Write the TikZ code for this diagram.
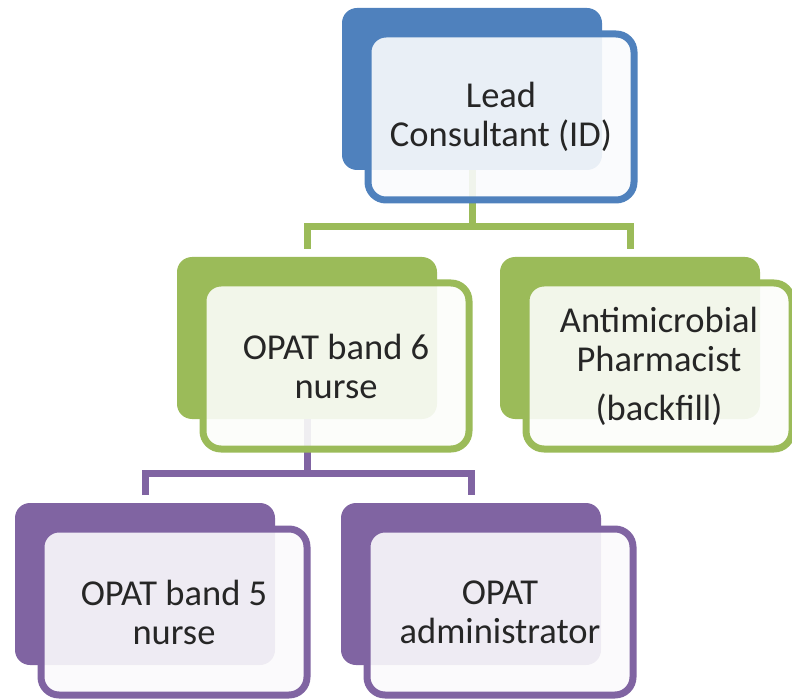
\documentclass[tikz,border=0pt]{standalone}
\usepackage{fontspec}
\setmainfont{Carlito}
\usepackage{tikz}
\usetikzlibrary{positioning,calc}
\definecolor{leadblue}{HTML}{4F81BD}
\definecolor{bandgreen}{HTML}{9BBB59}
\definecolor{staffpurple}{HTML}{8064A2}

\begin{document}
\begin{tikzpicture}[x=1pt, y=-1pt,
  backbox/.style={rectangle, rounded corners=15pt, minimum width=260pt, minimum height=162pt, inner sep=0pt, outer sep=0pt, fill=#1},
  frontbox/.style={rectangle, rounded corners=18pt, minimum width=266pt, minimum height=166pt, inner sep=4pt, outer sep=0pt, draw=#1, line width=7pt, fill=#1!3, fill opacity=0.9, text opacity=1, text=black!85, align=center, font=\fontsize{36.5}{39}\selectfont},
  link/.style={draw=#1, line width=7pt}]
  \useasboundingbox (0,0) rectangle (792,700);
  % back cards
  \node[backbox=leadblue] (leadBack) at (472,89) {};
  \node[backbox=bandgreen] (band6Back) at (307,338) {};
  \node[backbox=bandgreen] (pharmBack) at (630,338) {};
  \node[backbox=staffpurple] (band5Back) at (145,584) {};
  \node[backbox=staffpurple] (adminBack) at (471,584) {};
  % connectors
  \coordinate (greenBar) at (0,227);
  \coordinate (purpleBar) at (0,473);
  \draw[link=bandgreen] (leadBack.south) -- (leadBack.south |- greenBar);
  \draw[link=bandgreen] ([yshift=8pt]band6Back.north) |- (greenBar -| pharmBack.north) -- ([yshift=8pt]pharmBack.north);
  \draw[link=staffpurple] (band6Back.south) -- (band6Back.south |- purpleBar);
  \draw[link=staffpurple] ([yshift=8pt]band5Back.north) |- (purpleBar -| adminBack.north) -- ([yshift=8pt]adminBack.north);
  % front cards
  \node[frontbox=leadblue] (lead) at (501,117) {Lead\\Consultant (ID)};
  \node[frontbox=bandgreen] (band6) at (336,366) {OPAT band 6\\nurse};
  \node[frontbox=bandgreen] (pharm) at (659,366) {Antimicrobial\\Pharmacist\\[10pt](backfill)};
  \node[frontbox=staffpurple] (band5) at (174,612) {OPAT band 5\\nurse};
  \node[frontbox=staffpurple] (admin) at (500,612) {OPAT\\administrator};
\end{tikzpicture}
\end{document}
